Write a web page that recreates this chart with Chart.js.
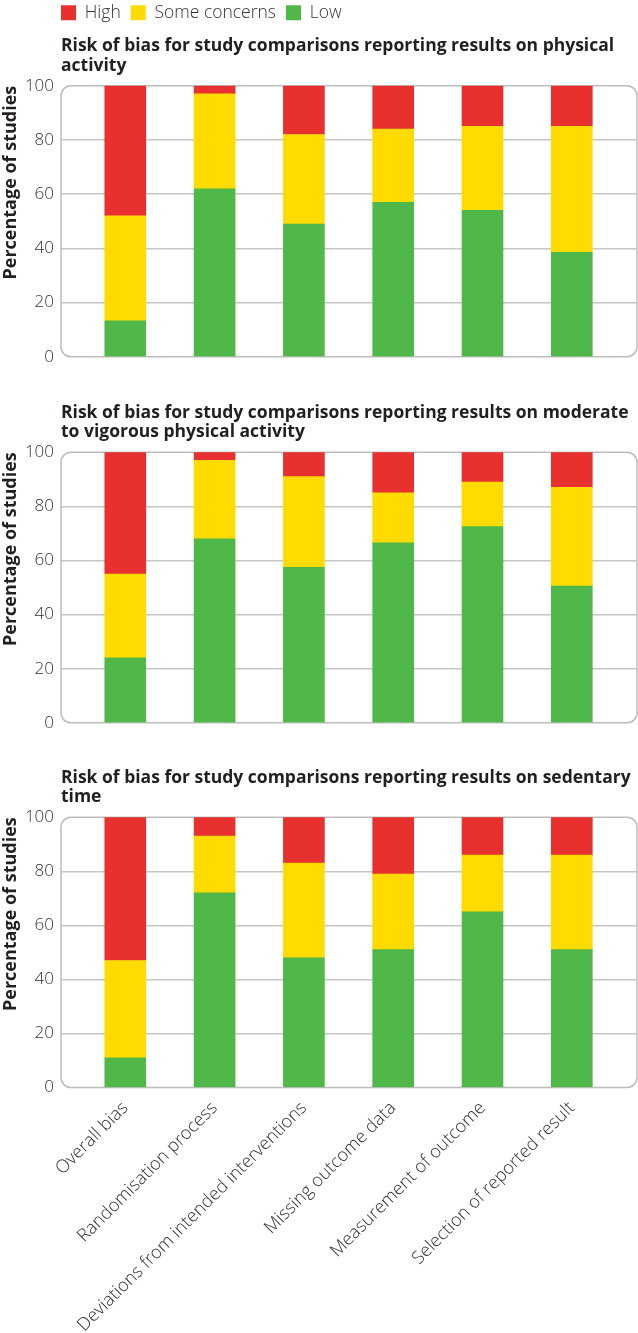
<!DOCTYPE html>
<html lang="en">
<head>
<meta charset="UTF-8">
<title>Risk of bias</title>
<script src="https://cdn.jsdelivr.net/npm/chart.js"></script>
<style>
    body { margin: 0; background: #fff; overflow: hidden; }
    .panel { position: absolute; left: 0; width: 638px; }
</style>
</head>
<body>

<div class="panel" style="top:0;height:374px"><canvas id="chartPA"></canvas></div>
<div class="panel" style="top:366px;height:374px"><canvas id="chartMVPA"></canvas></div>
<div class="panel" style="top:732px;height:601px"><canvas id="chartSed"></canvas></div>

<script>
// domains of the risk of bias tool
const domains = [
    "Overall bias",
    "Randomisation process",
    "Deviations from intended interventions",
    "Missing outcome data",
    "Measurement of outcome",
    "Selection of reported result"
];

// physical activity
const paLow  = [13.3, 62, 49, 57, 54, 38.5];
const paSome = [38.7, 35, 33, 27, 31, 46.5];
const paHigh = [48, 3, 18, 16, 15, 15];

// moderate to vigorous physical activity
const mvpaLow  = [24, 68, 57.5, 66.5, 72.5, 50.5];
const mvpaSome = [31, 29, 33.5, 18.5, 16.5, 36.5];
const mvpaHigh = [45, 3, 9, 15, 11, 13];

// sedentary time
const sedLow  = [11, 72, 48, 51, 65, 51];
const sedSome = [36, 21, 35, 28, 21, 35];
const sedHigh = [53, 7, 17, 21, 14, 14];

const RED = "#e8302e", YELLOW = "#ffdb00", GREEN = "#50b848";
const FONT = "'Open Sans', Lato, sans-serif";

// rounded grey frame round the plot area, legend pulled to the frame edge
const frame = {
    id: "frame",
    beforeDraw(chart) {
        if (chart.legend && chart.legend.options.display) {
            chart.legend.left = chart.chartArea.left - 10;
        }
    },
    beforeDatasetsDraw(chart) {
        const { ctx, chartArea: a } = chart;
        ctx.save();
        ctx.strokeStyle = "#bdbdbd";
        ctx.lineWidth = 1.5;
        ctx.beginPath();
        ctx.roundRect(a.left, a.top, a.right - a.left, a.bottom - a.top, 10);
        ctx.stroke();
        ctx.restore();
    }
};

function points(vals) {
    return vals.map((v, i) => ({ x: i, y: v }));
}

function makeChart(id, titleLines, low, some, high, withLegend, withLabels, pad) {
    return new Chart(document.getElementById(id), {
        type: "bar",
        data: {
            datasets: [
                { label: "Low", data: points(low), backgroundColor: GREEN },
                { label: "Some concerns", data: points(some), backgroundColor: YELLOW },
                { label: "High", data: points(high), backgroundColor: RED }
            ]
        },
        options: {
            responsive: true,
            maintainAspectRatio: false,
            animation: false,
            barThickness: 41,
            layout: { padding: pad },
            scales: {
                x: {
                    type: "linear",
                    stacked: true,
                    offset: false,
                    min: -0.72,
                    max: 5.73,
                    display: withLabels,
                    grid: { display: false },
                    border: { display: false },
                    ticks: {
                        stepSize: 1,
                        autoSkip: false,
                        minRotation: 45,
                        maxRotation: 45,
                        padding: 2,
                        color: "#333",
                        font: { family: FONT, size: 18, weight: "300" },
                        callback: (v) => Number.isInteger(v) && domains[v] ? domains[v] : ""
                    },
                    // rotated labels need no side room, keep the plot full width
                    afterFit(scale) { scale.paddingLeft = 0; scale.paddingRight = 0; }
                },
                y: {
                    stacked: true,
                    min: 0,
                    max: 100,
                    border: { display: false },
                    grid: {
                        color: (c) => (c.tick && (c.tick.value === 0 || c.tick.value === 100)) ? "rgba(0,0,0,0)" : "#c6c6c6",
                        lineWidth: 1.5,
                        drawTicks: false
                    },
                    ticks: {
                        stepSize: 20,
                        padding: 7,
                        color: "#333",
                        font: { family: FONT, size: 17, weight: "300" }
                    },
                    title: {
                        display: true,
                        text: "Percentage of studies",
                        align: "end",
                        color: "#231f20",
                        padding: 0,
                        font: { family: FONT, size: 18, weight: "bold" }
                    },
                    afterFit(scale) { scale.width = 61; }
                }
            },
            plugins: {
                legend: {
                    display: withLegend,
                    position: "top",
                    align: "start",
                    fullSize: false,
                    weight: 3000,
                    reverse: true,
                    labels: {
                        boxWidth: 15,
                        boxHeight: 15,
                        padding: 10,
                        color: "#333",
                        font: { family: FONT, size: 17.5, weight: "300" }
                    }
                },
                title: {
                    display: true,
                    text: titleLines,
                    align: "start",
                    fullSize: false,
                    color: "#231f20",
                    font: { family: FONT, size: 17.5, weight: "bold", lineHeight: 1.12 },
                    padding: { top: withLegend ? 5 : 2, bottom: 10 }
                },
                tooltip: { enabled: false }
            }
        },
        plugins: [frame]
    });
}

makeChart("chartPA",
    ["Risk of bias for study comparisons reporting results on physical", "activity"],
    paLow, paSome, paHigh, true, false, { top: -6, right: 1, bottom: 0 });
makeChart("chartMVPA",
    ["Risk of bias for study comparisons reporting results on moderate", "to vigorous physical activity"],
    mvpaLow, mvpaSome, mvpaHigh, false, false, { top: 35, right: 1, bottom: 0 });
makeChart("chartSed",
    ["Risk of bias for study comparisons reporting results on sedentary", "time"],
    sedLow, sedSome, sedHigh, false, true, { top: 34, right: 1, bottom: -5 });
</script>

</body>
</html>
